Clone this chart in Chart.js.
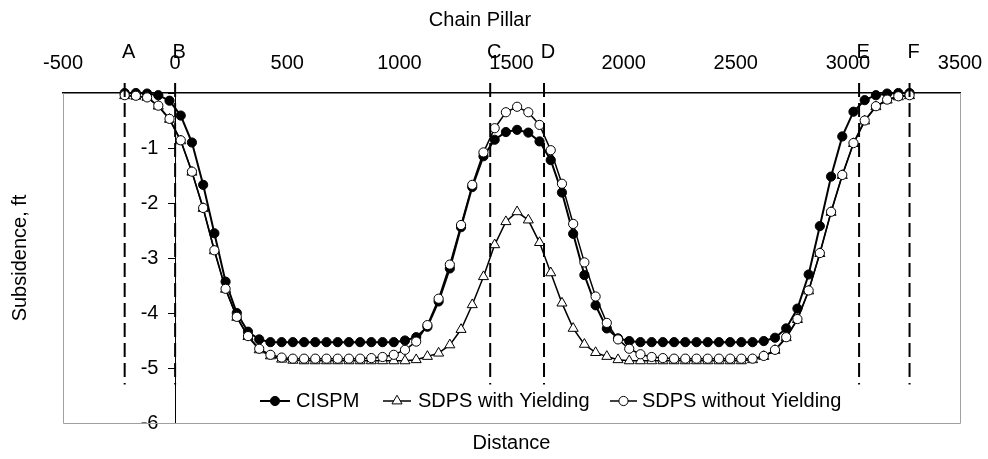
<!DOCTYPE html>
<html>
<head>
<meta charset="utf-8">
<script src="https://cdn.jsdelivr.net/npm/chart.js@4.4.1/dist/chart.umd.min.js"></script>
<style>
html,body{margin:0;padding:0;background:#fff;}
#wrap{width:988px;height:459px;}
canvas{display:block;}
</style>
</head>
<body>
<div id="wrap"><canvas id="c" width="988" height="459"></canvas></div>
<script>
// ---------------- data ----------------
const distance = [-225,-175,-125,-75,-25,25,75,125,175,225,275,325,375,425,475,525,575,625,675,725,775,825,875,925,975,
  1025,1075,1125,1175,1225,1275,1325,1375,1425,1475,1525,1575,1625,1675,1725,1775,1825,1875,1925,1975,2025,2075,2125,2175,
  2225,2275,2325,2375,2425,2475,2525,2575,2625,2675,2725,2775,2825,2875,2925,2975,3025,3075,3125,3175,3225,3275];

const cispm = [0.00,0.00,-0.01,-0.04,-0.14,
  -0.41,-0.90,-1.67,-2.55,-3.43,
  -4.00,-4.34,-4.48,-4.53,-4.53,
  -4.53,-4.53,-4.53,-4.53,-4.53,
  -4.53,-4.53,-4.53,-4.53,-4.53,
  -4.50,-4.44,-4.25,-3.79,-3.19,
  -2.44,-1.71,-1.15,-0.85,-0.71,
  -0.67,-0.72,-0.88,-1.22,-1.81,
  -2.56,-3.31,-3.86,-4.28,-4.46,
  -4.51,-4.53,-4.53,-4.53,-4.53,
  -4.53,-4.53,-4.53,-4.53,-4.53,
  -4.53,-4.53,-4.51,-4.45,-4.28,
  -3.92,-3.30,-2.42,-1.52,-0.79,
  -0.34,-0.13,-0.04,-0.01,0.00,
  0.00];

const sdpsYield = [-0.05,-0.06,-0.08,-0.24,-0.48,
  -0.87,-1.44,-2.10,-2.87,-3.57,
  -4.08,-4.43,-4.67,-4.78,-4.84,
  -4.86,-4.87,-4.87,-4.87,-4.87,
  -4.87,-4.87,-4.87,-4.87,-4.87,
  -4.87,-4.85,-4.79,-4.73,-4.58,
  -4.30,-3.85,-3.34,-2.76,-2.34,
  -2.16,-2.31,-2.72,-3.27,-3.82,
  -4.28,-4.57,-4.72,-4.79,-4.85,
  -4.87,-4.87,-4.87,-4.87,-4.87,
  -4.87,-4.87,-4.87,-4.87,-4.87,
  -4.87,-4.85,-4.79,-4.68,-4.45,
  -4.12,-3.60,-2.92,-2.17,-1.50,
  -0.92,-0.51,-0.25,-0.13,-0.07,
  -0.05];

const sdpsNoYield = [-0.04,-0.05,-0.08,-0.23,-0.47,
  -0.86,-1.43,-2.09,-2.86,-3.56,
  -4.07,-4.42,-4.65,-4.76,-4.81,
  -4.83,-4.83,-4.83,-4.83,-4.83,
  -4.83,-4.83,-4.82,-4.80,-4.76,
  -4.67,-4.52,-4.22,-3.74,-3.12,
  -2.40,-1.67,-1.08,-0.64,-0.35,
  -0.25,-0.35,-0.58,-1.04,-1.65,
  -2.38,-3.08,-3.70,-4.18,-4.48,
  -4.65,-4.75,-4.80,-4.82,-4.83,
  -4.83,-4.83,-4.83,-4.83,-4.83,
  -4.83,-4.83,-4.78,-4.67,-4.44,
  -4.11,-3.59,-2.91,-2.16,-1.49,
  -0.91,-0.50,-0.24,-0.12,-0.06,
  -0.04];

const xTicks = [-500,0,500,1000,1500,2000,2500,3000,3500];
const yTicks = [-6,-5,-4,-3,-2,-1,0];
const sectionNames = ['A','B','C','D','E','F'];
const sectionPos = [-225,0,1405,1645,3050,3275];
const sectionTop = 0.18;
const sectionBottom = -5.3;

const seriesLabels = ['CISPM','SDPS with Yielding','SDPS without Yielding'];

// ---------------- styling ----------------
const FONT = "'Liberation Sans', Arial, sans-serif";
Chart.defaults.font.family = FONT;
Chart.defaults.font.size = 20;
Chart.defaults.color = '#000';

const seriesStyle = [
  {pointStyle:'circle',   radius:4.6, fill:'#000', lineWidth:2},
  {pointStyle:'triangle', radius:5.8, fill:'#fff', lineWidth:1.5},
  {pointStyle:'circle',   radius:4.6, fill:'#fff', lineWidth:1.5}
];
const seriesData = [cispm, sdpsYield, sdpsNoYield];
const seriesOrder = [3,2,1];

const datasets = seriesData.map((vals, s) => ({
  label: seriesLabels[s],
  data: distance.map((x, i) => ({x: x, y: vals[i]})),
  borderColor: '#000',
  borderWidth: seriesStyle[s].lineWidth,
  pointStyle: seriesStyle[s].pointStyle,
  pointRadius: seriesStyle[s].radius,
  pointHoverRadius: seriesStyle[s].radius,
  pointBackgroundColor: seriesStyle[s].fill,
  pointBorderColor: '#000',
  pointBorderWidth: 1,
  tension: 0,
  clip: false,
  order: seriesOrder[s],
  xAxisID: 'x', yAxisID: 'y'
}));

sectionPos.forEach((p, i) => {
  datasets.push({
    label: 'section ' + sectionNames[i],
    data: [{x: p, y: sectionTop}, {x: p, y: sectionBottom}],
    borderColor: '#000',
    borderWidth: 2,
    borderDash: [14, 6],
    pointRadius: 0,
    pointHoverRadius: 0,
    clip: false,
    order: 0,
    xAxisID: 'x', yAxisID: 'y'
  });
});

function drawMarker(ctx, style, x, y) {
  ctx.save();
  ctx.fillStyle = style.fill;
  ctx.strokeStyle = '#000';
  ctx.lineWidth = 1;
  ctx.beginPath();
  const r = style.radius;
  if (style.pointStyle === 'triangle') {
    let rad = 0;
    ctx.moveTo(x + Math.sin(rad) * r, y - Math.cos(rad) * r);
    rad += 2 * Math.PI / 3;
    ctx.lineTo(x + Math.sin(rad) * r, y - Math.cos(rad) * r);
    rad += 2 * Math.PI / 3;
    ctx.lineTo(x + Math.sin(rad) * r, y - Math.cos(rad) * r);
    ctx.closePath();
  } else {
    ctx.arc(x, y, r, 0, Math.PI * 2);
  }
  ctx.fill();
  ctx.stroke();
  ctx.restore();
}

const plotFrame = {
  id: 'plotFrame',
  beforeDatasetsDraw(chart) {
    const {ctx, chartArea: a} = chart;
    ctx.save();
    ctx.strokeStyle = '#a0a0a0';
    ctx.lineWidth = 1;
    ctx.beginPath();
    ctx.moveTo(a.left + 0.5, a.top);
    ctx.lineTo(a.left + 0.5, a.bottom + 0.5);
    ctx.lineTo(a.right + 0.5, a.bottom + 0.5);
    ctx.lineTo(a.right + 0.5, a.top);
    ctx.stroke();
    ctx.restore();
  }
};

const sectionLabels = {
  id: 'sectionLabels',
  afterDraw(chart) {
    const {ctx} = chart;
    const xs = chart.scales.x;
    ctx.save();
    ctx.font = '20px ' + FONT;
    ctx.fillStyle = '#000';
    ctx.textAlign = 'center';
    ctx.textBaseline = 'middle';
    sectionNames.forEach((n, i) => {
      ctx.fillText(n, xs.getPixelForValue(sectionPos[i]) + 4, 52);
    });
    ctx.restore();
  }
};

const legendInside = {
  id: 'legendInside',
  afterDraw(chart) {
    const {ctx} = chart;
    const y = 401;
    const lineStart = [260, 383, 610];
    const lineLen = [30, 28, 27];
    const textX = [296, 418, 642];
    ctx.save();
    ctx.font = '20px ' + FONT;
    ctx.textBaseline = 'middle';
    ctx.textAlign = 'left';
    seriesLabels.forEach((lab, s) => {
      ctx.strokeStyle = '#000';
      ctx.lineWidth = seriesStyle[s].lineWidth;
      ctx.beginPath();
      ctx.moveTo(lineStart[s], y);
      ctx.lineTo(lineStart[s] + lineLen[s], y);
      ctx.stroke();
      drawMarker(ctx, seriesStyle[s], lineStart[s] + lineLen[s] / 2, y);
      ctx.fillStyle = '#000';
      ctx.fillText(lab, textX[s], y);
    });
    ctx.restore();
  }
};

new Chart(document.getElementById('c'), {
  type: 'line',
  data: {datasets},
  options: {
    responsive: false,
    animation: false,
    events: [],
    layout: {padding: {left: 0, right: 28, top: 0, bottom: 0}},
    plugins: {
      legend: {display: false},
      tooltip: {enabled: false},
      title: {display: true, text: 'Chain Pillar', color: '#000',
              font: {size: 20, weight: 'normal', family: FONT}, padding: {top: 8, bottom: 0}}
    },
    scales: {
      x: {
        type: 'linear', position: 'top', min: -500, max: 3500,
        afterBuildTicks: s => { s.ticks = xTicks.map(v => ({value: v})); },
        ticks: {padding: 18, color: '#000', font: {size: 20}, maxRotation: 0,
                callback: v => String(v)},
        grid: {display: false, drawTicks: false},
        border: {display: true, color: '#000', width: 1.5},
        afterFit: s => { s.height = 61; s.paddingLeft = 0; s.paddingRight = 0; }
      },
      y: {
        type: 'linear', position: {x: 0}, min: -6, max: 0,
        afterBuildTicks: s => { s.ticks = yTicks.map(v => ({value: v})); },
        ticks: {padding: 10, color: '#000', font: {size: 20},
                // right-aligned at the axis line: trailing spaces keep the text clear of the tick marks
                callback: v => (v === 0 ? '' : String(v) + '   ')},
        grid: {display: true, drawOnChartArea: false, drawTicks: true, tickLength: 7, color: '#000', lineWidth: 1},
        border: {display: true, color: '#000', width: 1},
        afterFit: s => { s.paddingTop = 0; s.paddingBottom = 0; }
      },
      yTitle: {
        type: 'linear', position: 'left', min: -6, max: 0,
        ticks: {display: false},
        grid: {display: false, drawTicks: false},
        border: {display: false},
        title: {display: true, text: 'Subsidence, ft', color: '#000', font: {size: 20}, padding: {top: 8, bottom: 0}},
        afterFit: s => { s.width = 63; s.paddingTop = 0; s.paddingBottom = 0; }
      },
      xTitle: {
        type: 'linear', position: 'bottom', min: -500, max: 3500,
        ticks: {display: false},
        grid: {display: false, drawTicks: false},
        border: {display: false},
        title: {display: true, text: 'Distance', color: '#000', font: {size: 20}, padding: {top: 0, bottom: 4}},
        afterFit: s => { s.height = 36; s.paddingLeft = 0; s.paddingRight = 0; }
      }
    }
  },
  plugins: [plotFrame, sectionLabels, legendInside]
});
</script>
</body>
</html>
